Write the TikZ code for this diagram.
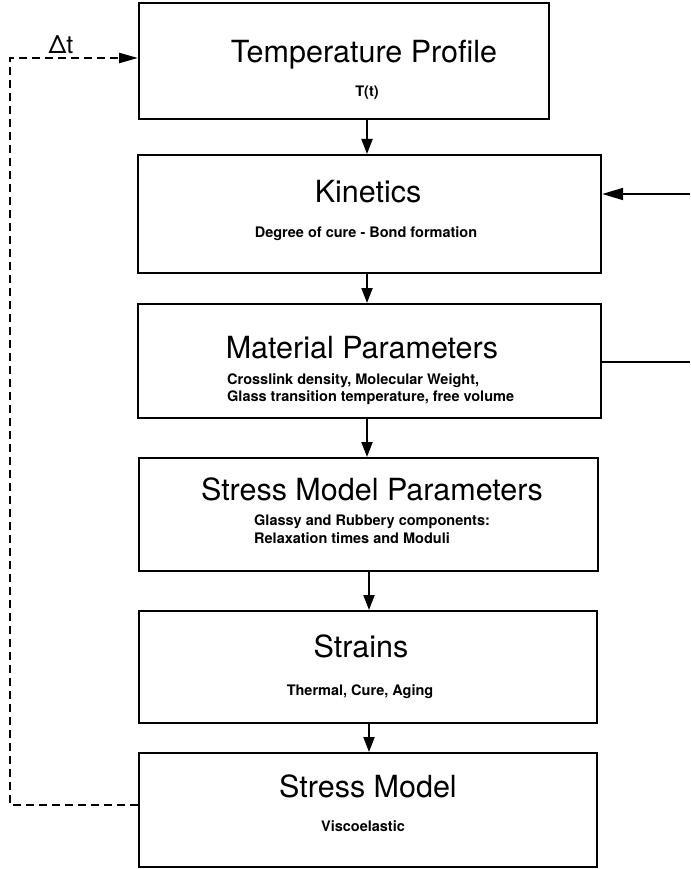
\documentclass[tikz,border=0pt]{standalone}
\usepackage{fontspec}
\setmainfont{TeX Gyre Heros}
\usetikzlibrary{arrows.meta}
\begin{document}
\begin{tikzpicture}[x=1pt,y=-1pt,
  box/.style={draw, line width=2.2pt, anchor=north west, inner sep=0pt},
  title/.style={anchor=base, inner sep=0pt, font=\fontsize{30.5}{36}\selectfont},
  sub/.style={anchor=base, inner sep=0pt, font=\bfseries\fontsize{14.5}{18}\selectfont},
  subl/.style={sub, anchor=base west},
  flow/.style={line width=2pt, -{Triangle[length=15pt,width=11pt]}},
  feed/.style={line width=2pt, -{Triangle[length=21pt,width=12pt]}},
  loop/.style={line width=2.2pt, dash pattern=on 8pt off 5pt, -{Triangle[length=19pt,width=10pt]}}]
\useasboundingbox (0,0) rectangle (690,869);

% process boxes
\node[box, minimum width=410pt, minimum height=116pt] (b1) at (138,2) {};
\node[box, minimum width=463pt, minimum height=118pt] (b2) at (137,154) {};
\node[box, minimum width=463pt, minimum height=114pt] (b3) at (137,303) {};
\node[box, minimum width=459pt, minimum height=113pt] (b4) at (138,457) {};
\node[box, minimum width=458pt, minimum height=112pt] (b5) at (138,610) {};
\node[box, minimum width=458pt, minimum height=114pt] (b6) at (138,752) {};

% box texts
\node[title] (t1) at (364,63) {Temperature Profile};
\node[sub]   (s1) at (367,97) {T(t)};
\node[title] (t2) at (368,202) {Kinetics};
\node[sub]   (s2) at (366,237) {Degree of cure - Bond formation};
\node[title] (t3) at (362,358) {Material Parameters};
\node[subl]  (s3a) at (227,384) {Crosslink density, Molecular Weight,};
\node[subl]  (s3b) at (227,401) {Glass transition temperature, free volume};
\node[title] (t4) at (372,500) {Stress Model Parameters};
\node[subl]  (s4a) at (254,525) {Glassy and Rubbery components:};
\node[subl]  (s4b) at (254,543) {Relaxation times and Moduli};
\node[title] (t5) at (361,657) {Strains};
\node[sub]   (s5) at (360,695) {Thermal, Cure, Aging};
\node[title] (t6) at (368,797) {Stress Model};
\node[sub]   (s6) at (363,831) {Viscoelastic};

% flow between boxes
\coordinate (c1) at (367,0);
\draw[flow] (b1.south -| c1) -- (b2.north -| c1);
\draw[flow] (b2.south -| c1) -- (b3.north -| c1);
\draw[flow] (b3.south -| c1) -- (b4.north -| c1);
\coordinate (c2) at (369,0);
\draw[flow] (b4.south -| c2) -- (b5.north -| c2);
\draw[flow] (b5.south -| c2) -- (b6.north -| c2);

% side links on the right
\coordinate (inR) at (690,194);
\coordinate (outR) at (690,362);
\draw[feed] (inR) -- (inR -| b2.east);
\draw[line width=2pt] (outR -| b3.east) -- (outR);

% time-step feedback loop
\coordinate (lb) at (10,805);
\coordinate (lt) at (10,58);
\draw[loop] (lb -| b6.west) -- (lb) -- (lt) -- (lt -| b1.west);
\node[anchor=base, inner sep=0pt, font=\fontsize{25}{30}\selectfont] (dt) at (61,54) {Δt};
\end{tikzpicture}
\end{document}
